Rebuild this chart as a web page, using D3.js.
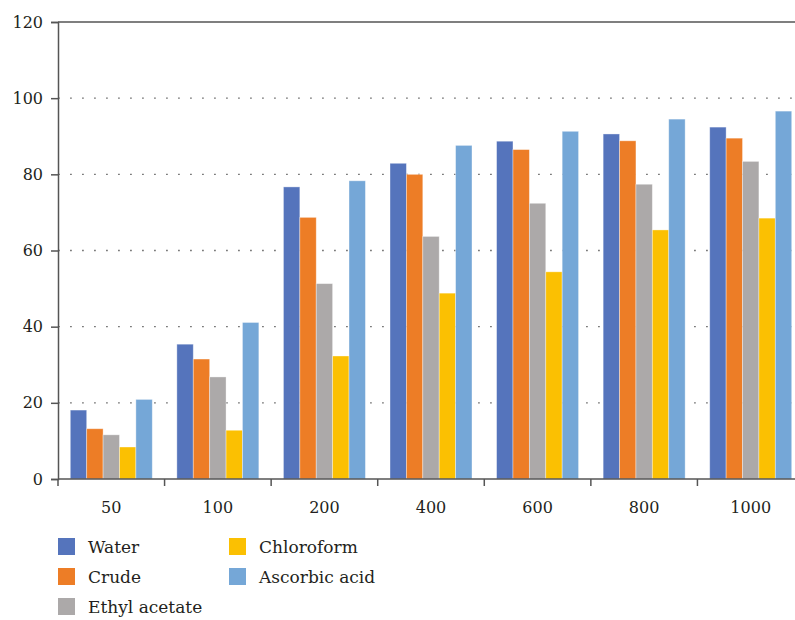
<!DOCTYPE html>
<html>
<head>
<meta charset="utf-8">
<script src="https://cdn.jsdelivr.net/npm/d3@7"></script>
<style>
  body { margin: 0; background: #fff; }
</style>
</head>
<body>
<div id="chart"></div>
<script>
// concentrations (x categories)
var concentrations = ["50", "100", "200", "400", "600", "800", "1000"];
var seriesNames = ["Water", "Crude", "Ethyl acetate", "Chloroform", "Ascorbic acid"];
var seriesColors = ["#5574bc", "#ed7d26", "#aca9a9", "#fbc002", "#75a7d7"];

// values, one array per extract
var water = [18.1, 35.4, 76.7, 82.9, 88.7, 90.6, 92.4];
var crude = [13.2, 31.5, 68.7, 80.0, 86.5, 88.8, 89.5];
var ethylAcetate = [11.6, 26.8, 51.3, 63.7, 72.4, 77.4, 83.4];
var chloroform = [8.4, 12.8, 32.3, 48.8, 54.4, 65.4, 68.5];
var ascorbicAcid = [20.9, 41.1, 78.3, 87.6, 91.3, 94.5, 96.6];

var yTicks = [0, 20, 40, 60, 80, 100, 120];

var allSeries = [water, crude, ethylAcetate, chloroform, ascorbicAcid];
var serif = "DejaVu Serif";

var svgWidth = 795, svgHeight = 620;
var margin = {top: 22, right: -9, bottom: 141, left: 58},
    width = svgWidth - margin.left - margin.right,
    height = svgHeight - margin.top - margin.bottom;

var svg = d3.select("#chart")
  .append("svg")
    .attr("width", svgWidth)
    .attr("height", svgHeight)
  .append("g")
    .attr("transform", "translate(" + margin.left + "," + margin.top + ")");

var x = d3.scaleBand()
  .domain(concentrations)
  .range([0, width])
  .paddingInner(0)
  .paddingOuter(0);

var inner = d3.scaleBand()
  .domain(seriesNames)
  .range([0, x.bandwidth()])
  .paddingOuter(0.75)
  .paddingInner(0);

var y = d3.scaleLinear()
  .domain([0, 120])
  .range([height, 0]);

// dotted gridlines
svg.append("g")
  .selectAll("line")
  .data(yTicks.filter(d => d > 0 && d < 120))
  .join("line")
    .attr("x1", 0.3)
    .attr("x2", width)
    .attr("y1", d => y(d))
    .attr("y2", d => y(d))
    .attr("stroke", "#444")
    .attr("stroke-width", 1.3)
    .attr("stroke-dasharray", "1.3,10.7");

// top border
svg.append("line")
  .attr("x1", 0).attr("x2", width)
  .attr("y1", y(120)).attr("y2", y(120))
  .attr("stroke", "#555").attr("stroke-width", 1.5);

// bars
var rows = concentrations.map((c, i) => ({
  cat: c,
  vals: seriesNames.map((s, j) => ({name: s, value: allSeries[j][i], color: seriesColors[j]}))
}));

svg.append("g")
  .selectAll("g")
  .data(rows)
  .join("g")
    .attr("transform", d => "translate(" + x(d.cat) + ",0)")
  .selectAll("rect")
  .data(d => d.vals)
  .join("rect")
    .attr("x", d => inner(d.name))
    .attr("y", d => y(d.value))
    .attr("width", inner.bandwidth())
    .attr("height", d => y(0) - y(d.value))
    .attr("fill", d => d.color)
    .attr("stroke", "#fff")
    .attr("stroke-opacity", 0.45)
    .attr("stroke-width", 0.8);

// Y axis
var yAxis = svg.append("g")
  .call(d3.axisLeft(y).tickValues(yTicks).tickSize(7).tickPadding(8).tickFormat(d3.format("d")));
yAxis.attr("font-family", serif).attr("font-size", 16);
yAxis.select(".domain").attr("stroke", "#555").attr("stroke-width", 1.5);
yAxis.selectAll(".tick line").attr("stroke", "#555").attr("stroke-width", 1.5);
yAxis.selectAll(".tick text").attr("fill", "#231f20");

// X axis, ticks at band edges
var xAxis = svg.append("g")
  .attr("transform", "translate(0," + height + ")");
xAxis.append("line")
  .attr("x1", 0).attr("x2", width)
  .attr("stroke", "#555").attr("stroke-width", 1.5);
xAxis.selectAll(".edge")
  .data(concentrations)
  .join("line")
    .attr("class", "edge")
    .attr("x1", d => x(d)).attr("x2", d => x(d))
    .attr("y1", 0).attr("y2", 7)
    .attr("stroke", "#555").attr("stroke-width", 1.5);
xAxis.selectAll("text")
  .data(concentrations)
  .join("text")
    .attr("x", d => x(d) + x.bandwidth() / 2)
    .attr("y", 34)
    .attr("text-anchor", "middle")
    .attr("font-family", serif)
    .attr("font-size", 16)
    .attr("fill", "#231f20")
    .text(d => d);

// legend, two columns
var legend = d3.select("svg").append("g")
  .attr("transform", "translate(58,538)");
var legendItems = legend.selectAll("g")
  .data(seriesNames)
  .join("g")
    .attr("transform", (d, i) => "translate(" + (i < 3 ? 0 : 171) + "," + ((i % 3) * 30) + ")");
legendItems.append("rect")
  .attr("width", 17).attr("height", 17)
  .attr("fill", (d, i) => seriesColors[i]);
legendItems.append("text")
  .attr("x", 30)
  .attr("y", 15)
  .attr("font-family", serif)
  .attr("font-size", 17)
  .attr("fill", "#231f20")
  .text(d => d);
</script>
</body>
</html>
